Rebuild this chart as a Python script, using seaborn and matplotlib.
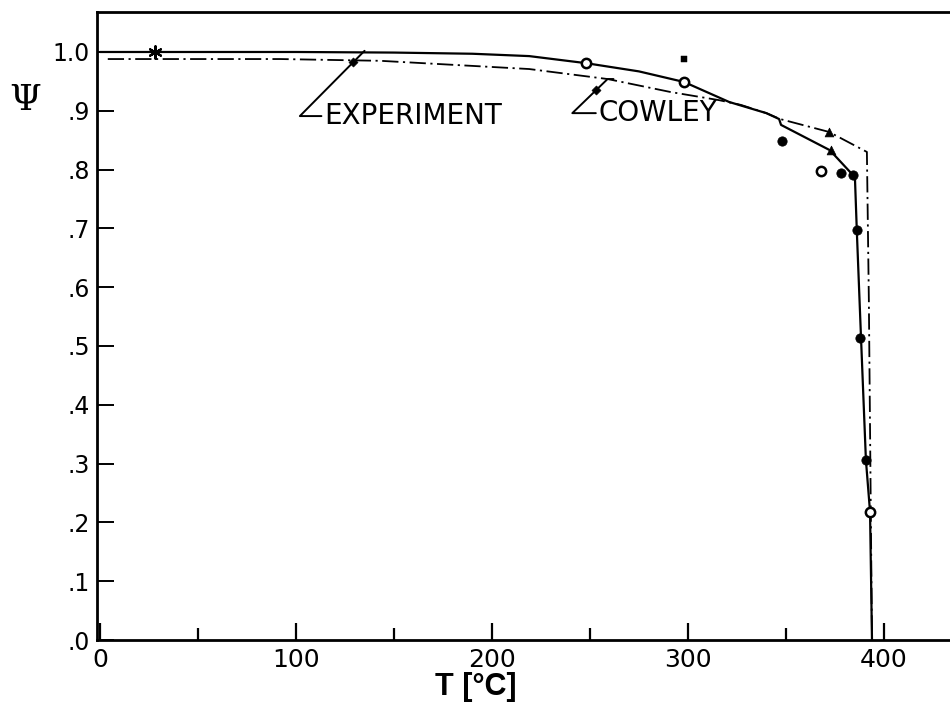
import matplotlib
matplotlib.use("Agg")
import matplotlib.pyplot as plt
import seaborn as sns

# Order parameter Psi versus temperature: measured curve and Cowley theory
exp_T = [0, 50, 100, 150, 190, 219, 248, 275, 298, 321, 340, 346.5, 347.5,
         372.4, 382.7, 385.2, 386.2, 388.3, 390.8, 392.9, 393.9]
exp_psi = [1.000, 1.000, 1.000, 0.999, 0.997, 0.993, 0.981, 0.967, 0.949, 0.915,
           0.896, 0.886, 0.876, 0.833, 0.796, 0.786, 0.692, 0.514, 0.306, 0.218, 0.0]

cowley_T = [4, 92, 143, 219, 259, 291, 316, 327, 340, 347, 372, 391.3, 392.3, 393.9]
cowley_psi = [0.988, 0.988, 0.985, 0.971, 0.954, 0.932, 0.918, 0.910, 0.896,
              0.886, 0.864, 0.830, 0.578, 0.0]

# Measured points
open_T = [248, 298, 368, 393]
open_psi = [0.981, 0.949, 0.798, 0.218]
filled_T = [348, 378, 384, 386, 388, 391]
filled_psi = [0.849, 0.794, 0.791, 0.697, 0.514, 0.306]
tri_T = [372, 373]
tri_psi = [0.864, 0.833]
star_T = [28]
star_psi = [1.0]
square_T = [298]
square_psi = [0.988]

# Label leaders (end of stub, elbow, tip) and their arrow marks
labels = ["EXPERIMENT", "COWLEY"]
leader_T = [[113, 102, 135], [253, 241, 259, 262]]
leader_psi = [[0.891, 0.891, 1.002], [0.896, 0.896, 0.954, 0.954]]
arrow_T = [129, 253]
arrow_psi = [0.983, 0.935]

xticks_major = [0, 100, 200, 300, 400]
xticks_minor = [50, 150, 250, 350]
yticks = [0.0, 0.1, 0.2, 0.3, 0.4, 0.5, 0.6, 0.7, 0.8, 0.9, 1.0]
ytick_labels = [".0", ".1", ".2", ".3", ".4", ".5", ".6", ".7", ".8", ".9", "1.0"]

ink = "black"
sns.set_theme(style="white", rc={"text.color": ink, "axes.labelcolor": ink,
                                 "xtick.color": ink, "ytick.color": ink,
                                 "axes.edgecolor": ink})
plt.rcParams["font.family"] = ["DejaVu Sans"]

fig = plt.figure(figsize=(9.5, 7.18), dpi=100)
ax = fig.add_axes([97 / 950, 1 - 640 / 718, 1 - 97 / 950, 628 / 718])

sns.lineplot(x=exp_T, y=exp_psi, sort=False, estimator=None, ax=ax,
             color=ink, lw=1.6)
sns.lineplot(x=cowley_T, y=cowley_psi, sort=False, estimator=None, ax=ax,
             color=ink, lw=1.3, linestyle=(0, (9, 2.5, 1.2, 2.5)))

sns.scatterplot(x=open_T, y=open_psi, ax=ax, marker="o", s=45,
                facecolor="white", edgecolor=ink, linewidth=1.8, zorder=5)
sns.scatterplot(x=filled_T, y=filled_psi, ax=ax, marker="o", s=45,
                color=ink, edgecolor=ink, zorder=5)
sns.scatterplot(x=tri_T, y=tri_psi, ax=ax, marker="^", s=40,
                color=ink, edgecolor=ink, zorder=5)
sns.scatterplot(x=star_T, y=star_psi, ax=ax, marker=(6, 2, 0), s=80,
                color=ink, edgecolor=ink, linewidth=1.6, zorder=5)
sns.scatterplot(x=square_T, y=square_psi, ax=ax, marker="s", s=18,
                color=ink, edgecolor=ink, zorder=5)

for name, lt, lp in zip(labels, leader_T, leader_psi):
    ax.plot(lt, lp, color=ink, lw=1.4)
    ax.text(lt[0] + 1.5, lp[0], name, fontsize=20, ha="left", va="center",
            color=ink)
sns.scatterplot(x=arrow_T, y=arrow_psi, ax=ax, marker="D", s=22,
                color=ink, edgecolor=ink, zorder=5)

ax.set_xlim(-1.5, 433.7)
ax.set_ylim(0, 1.068)

ax.set_xticks(xticks_major)
ax.set_xticklabels([str(t) for t in xticks_major])
ax.set_xticks(xticks_minor, minor=True)
ax.set_yticks(yticks)
ax.set_yticklabels(ytick_labels)

ax.tick_params(axis="x", which="major", direction="in", length=12, width=1.6,
               labelsize=18, pad=6, color=ink, labelcolor=ink, bottom=True)
ax.tick_params(axis="x", which="minor", direction="in", length=9, width=1.6,
               color=ink, bottom=True)
ax.tick_params(axis="y", direction="in", length=12, width=1.4,
               labelsize=17, pad=5, color=ink, labelcolor=ink, left=True)

for side in ["left", "top", "bottom"]:
    ax.spines[side].set_visible(True)
    ax.spines[side].set_color(ink)
    ax.spines[side].set_linewidth(2.0)
ax.spines["right"].set_visible(False)

ax.set_xlabel("T [°C]", fontsize=22, fontweight="bold",
              family=["Liberation Sans"], color=ink)
ax.xaxis.set_label_coords((476 - 97) / 853, -32 / 628)
fig.text(25 / 950, 1 - 100 / 718, "Ψ", fontsize=26, family=["DejaVu Serif"],
         ha="center", va="center", color=ink)

fig.savefig("out.png", dpi=100, facecolor="white")
